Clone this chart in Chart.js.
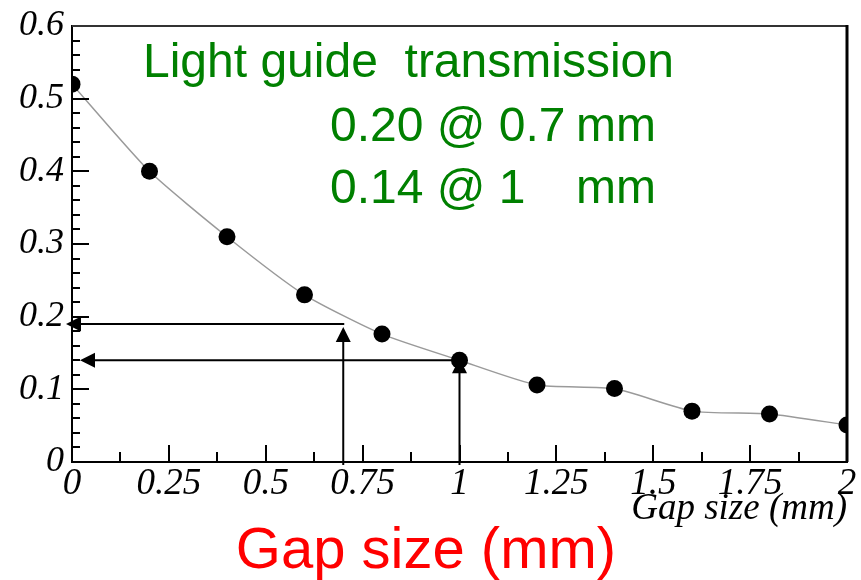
<!DOCTYPE html>
<html>
<head>
<meta charset="utf-8">
<title>Light guide transmission vs gap size</title>
<script src="https://cdn.jsdelivr.net/npm/chart.js@4.4.1/dist/chart.umd.min.js"></script>
<style>
  html, body { margin: 0; padding: 0; background: #ffffff; }
  #wrap { width: 861px; height: 580px; }
</style>
</head>
<body>
<div id="wrap"><canvas id="chart" width="861" height="580"></canvas></div>
<script>
// Measured transmission versus air gap between light guide and sensor
const gapSizes = [0, 0.2, 0.4, 0.6, 0.8, 1.0, 1.2, 1.4, 1.6, 1.8, 2.0];
const transmission = [0.52, 0.40, 0.31, 0.23, 0.176, 0.140, 0.106, 0.101, 0.070, 0.066, 0.051];

// Axis tick values and their labels
const xTickValues = [0, 0.25, 0.5, 0.75, 1, 1.25, 1.5, 1.75, 2];
const xTickLabels = ['0', '0.25', '0.5', '0.75', '1', '1.25', '1.5', '1.75', '2'];
const yTickValues = [0, 0.1, 0.2, 0.3, 0.4, 0.5, 0.6];
const yTickLabels = ['0', '0.1', '0.2', '0.3', '0.4', '0.5', '0.6'];

// Read-off guides: gap (mm) and the transmission read at that gap
const readGaps = [0.7, 1.0];
const readValues = [0.19, 0.14];

// Annotation text
const noteTitle = 'Light guide  transmission';
const noteLines = [['0.20 @ 0.7', 'mm'], ['0.14 @ 1', 'mm']];
const bigAxisLabel = 'Gap size (mm)';

const SERIF = '"Liberation Serif", "DejaVu Serif", serif';
const SANS = '"Liberation Sans", Arial, sans-serif';

// Inward-pointing major/minor ticks plus the top and right frame lines
const frameTicks = {
  id: 'frameTicks',
  afterDatasetsDraw(chart) {
    const {ctx, chartArea: a, scales: {x, y}} = chart;
    ctx.save();
    ctx.strokeStyle = '#000';
    ctx.lineWidth = 2;
    ctx.beginPath();
    for (let i = 0; i <= 16; i++) {
      const v = i * 0.125;
      const px = Math.round(x.getPixelForValue(v));
      const len = (i % 2 === 0) ? 17 : 10;
      ctx.moveTo(px, a.bottom);
      ctx.lineTo(px, a.bottom - len);
    }
    for (let i = 0; i <= 30; i++) {
      const v = i * 0.02;
      const py = Math.round(y.getPixelForValue(v));
      const len = (i % 5 === 0) ? 17 : 8;
      ctx.moveTo(a.left, py);
      ctx.lineTo(a.left + len, py);
    }
    ctx.stroke();
    // top frame
    ctx.strokeStyle = '#333';
    ctx.lineWidth = 2;
    ctx.beginPath();
    ctx.moveTo(a.left, a.top);
    ctx.lineTo(a.right, a.top);
    ctx.stroke();
    // right frame
    ctx.strokeStyle = '#000';
    ctx.lineWidth = 3;
    ctx.beginPath();
    ctx.moveTo(a.right, a.top - 1);
    ctx.lineTo(a.right, a.bottom);
    ctx.stroke();
    ctx.restore();
  }
};

function arrowHead(ctx, tipX, tipY, dir) {
  const L = 15, W = 7.5;
  ctx.beginPath();
  if (dir === 'left') {
    ctx.moveTo(tipX, tipY);
    ctx.lineTo(tipX + L, tipY - W);
    ctx.lineTo(tipX + L, tipY + W);
  } else {
    ctx.moveTo(tipX, tipY);
    ctx.lineTo(tipX - W, tipY + L);
    ctx.lineTo(tipX + W, tipY + L);
  }
  ctx.closePath();
  ctx.fill();
}

// Arrows: up from the gap to the curve, then left to the transmission axis
const readArrows = {
  id: 'readArrows',
  afterDatasetsDraw(chart) {
    const {ctx, chartArea: a, scales: {x, y}} = chart;
    const tipOffsets = [-6, 8];
    ctx.save();
    ctx.strokeStyle = '#000';
    ctx.fillStyle = '#000';
    ctx.lineWidth = 2;
    readGaps.forEach((g, i) => {
      const px = x.getPixelForValue(g);
      const py = y.getPixelForValue(readValues[i]);
      const tipX = a.left + tipOffsets[i];
      // vertical
      const vTip = py + (i === 0 ? 3 : -2);
      ctx.beginPath();
      ctx.moveTo(px, a.bottom + 3);
      ctx.lineTo(px, vTip + 14);
      ctx.stroke();
      arrowHead(ctx, px, vTip, 'up');
      // horizontal
      ctx.beginPath();
      ctx.moveTo(px + 1, py);
      ctx.lineTo(tipX + 14, py);
      ctx.stroke();
      arrowHead(ctx, tipX, py, 'left');
    });
    ctx.restore();
  }
};

// Green annotation block and the large red axis caption
const captions = {
  id: 'captions',
  afterDraw(chart) {
    const {ctx} = chart;
    ctx.save();
    ctx.fillStyle = '#008000';
    ctx.font = '48px ' + SANS;
    ctx.textBaseline = 'alphabetic';
    ctx.textAlign = 'left';
    ctx.fillText(noteTitle, 143, 77);
    const baselines = [141, 203];
    noteLines.forEach((ln, i) => {
      ctx.textAlign = 'left';
      ctx.fillText(ln[0], 330, baselines[i]);
      ctx.textAlign = 'right';
      ctx.fillText(ln[1], 656, baselines[i]);
    });
    ctx.fillStyle = '#ff0000';
    ctx.font = '58px ' + SANS;
    ctx.textAlign = 'center';
    ctx.fillText(bigAxisLabel, 426, 568);
    ctx.restore();
  }
};

new Chart(document.getElementById('chart'), {
  type: 'line',
  data: {
    datasets: [{
      data: gapSizes.map((g, i) => ({x: g, y: transmission[i]})),
      borderColor: '#9a9a9a',
      borderWidth: 1.5,
      tension: 0.2,
      pointRadius: 8.5,
      pointHoverRadius: 8.5,
      pointBackgroundColor: '#000',
      pointBorderColor: '#000',
      pointBorderWidth: 0,
      clip: 0
    }]
  },
  options: {
    responsive: false,
    animation: false,
    events: [],
    layout: {padding: {top: 26, right: 14, left: 0, bottom: 0}},
    plugins: {legend: {display: false}, tooltip: {enabled: false}},
    scales: {
      x: {
        type: 'linear',
        min: 0, max: 2,
        afterBuildTicks: s => { s.ticks = xTickValues.map(v => ({value: v})); },
        afterFit: s => { s.height = 118; },
        grid: {display: false, drawTicks: false},
        border: {display: true, color: '#000', width: 2},
        ticks: {
          color: '#000',
          padding: 4,
          maxRotation: 0,
          autoSkip: false,
          callback: (v, i) => xTickLabels[i],
          font: {family: SERIF, style: 'italic', size: 37, lineHeight: 1}
        },
        title: {
          display: true,
          text: 'Gap size (mm)',
          align: 'end',
          color: '#000',
          font: {family: SERIF, style: 'italic', size: 37, lineHeight: 1},
          padding: {top: 0, bottom: 52}
        }
      },
      y: {
        type: 'linear',
        min: 0, max: 0.6,
        afterBuildTicks: s => { s.ticks = yTickValues.map(v => ({value: v})); },
        afterFit: s => { s.width = 72; },
        grid: {display: false, drawTicks: false},
        border: {display: true, color: '#000', width: 2},
        ticks: {
          color: '#000',
          padding: 8,
          autoSkip: false,
          callback: (v, i) => yTickLabels[i],
          font: {family: SERIF, style: 'italic', size: 36, lineHeight: 1}
        }
      }
    }
  },
  plugins: [frameTicks, readArrows, captions]
});
</script>
</body>
</html>
